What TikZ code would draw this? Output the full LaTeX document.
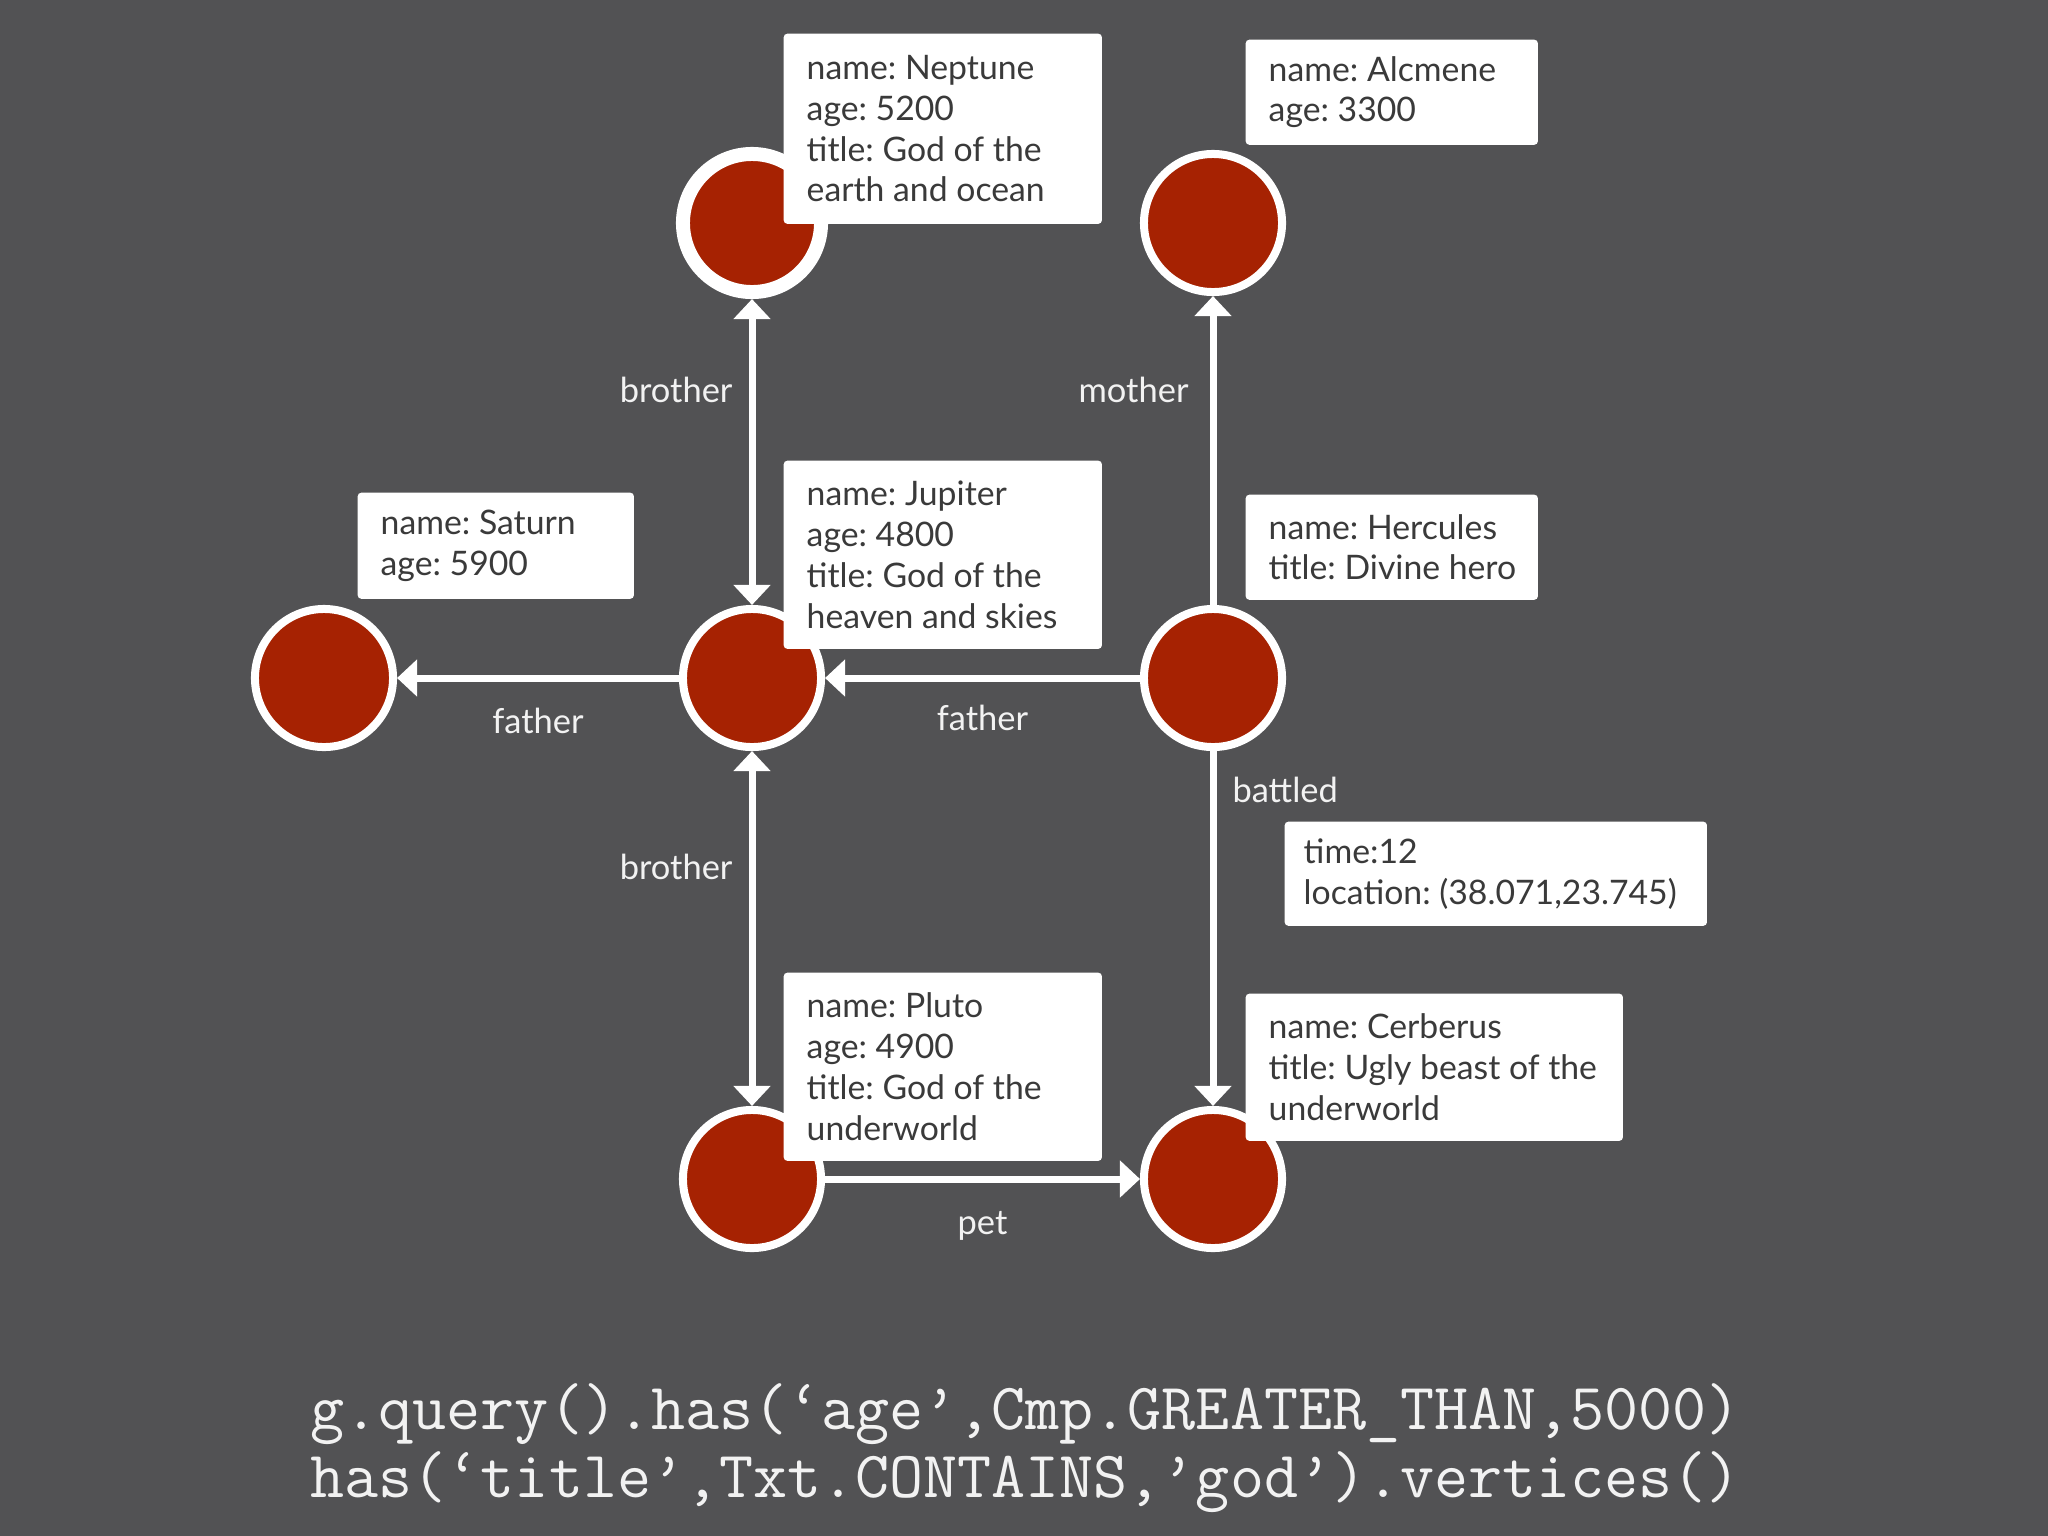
\documentclass[tikz,border=0pt]{standalone}
\usepackage{fontspec}
\setmainfont{Lato}
\frenchspacing
\usepackage{tikz}
\usetikzlibrary{arrows.meta,positioning}
\definecolor{bggray}{RGB}{82,82,84}
\definecolor{nodered}{RGB}{166,34,2}
\definecolor{boxtext}{RGB}{58,58,58}
\definecolor{lbltext}{RGB}{242,242,242}

\begin{document}
\begin{tikzpicture}[x=0.01cm, y=-0.01cm,
  vertex/.style={circle, draw=white, fill=nodered, line width=0.08cm, minimum size=1.38cm, inner sep=0pt},
  edge/.style={draw=white, line width=0.07cm, >={Triangle[length=0.2cm,width=0.36cm]}},
  lbl/.style={text=lbltext, inner sep=0pt, font=\fontsize{9.8pt}{11.6pt}\selectfont},
  infobox/.style={fill=white, rounded corners=1pt, anchor=north west, inner sep=0pt},
  info/.style={text=boxtext, align=left, anchor=west, inner sep=0pt, xshift=0.23cm, font=\fontsize{9.6pt}{11.6pt}\selectfont},
  code/.style={text=lbltext, anchor=base west, inner sep=0pt, font=\fontsize{18.8pt}{19.3pt}\ttfamily}]
\fill[bggray] (0,0) rectangle (2048,1536);
\useasboundingbox (0,0) rectangle (2048,1536);

% vertices
\node[vertex, line width=0.14cm] (nep) at (752,223) {};
\node[vertex] (alc) at (1213,223) {};
\node[vertex] (sat) at (324,678) {};
\node[vertex] (jup) at (752,678) {};
\node[vertex] (her) at (1213,678) {};
\node[vertex] (plu) at (752,1179) {};
\node[vertex] (cer) at (1213,1179) {};

% edges
\draw[edge, <->] (nep) -- node[lbl, pos=0.337, anchor=base east, xshift=-0.16cm] (lbro1) {brother} (jup);
\draw[edge, ->] (her) -- node[lbl, pos=0.657, anchor=base east, xshift=-0.21cm] (lmot) {mother} (alc);
\draw[edge, ->] (jup) -- node[lbl, midway, anchor=base, yshift=-0.55cm] (lfat1) {father} (sat);
\draw[edge, ->] (her) -- node[lbl, midway, anchor=base, yshift=-0.52cm] (lfat2) {father} (jup);
\draw[edge, ->] (her) -- node[lbl, pos=0.146, anchor=base west, xshift=0.16cm] (lbat) {battled} (cer);
\draw[edge, <->] (jup) -- node[lbl, pos=0.363, anchor=base east, xshift=-0.16cm] (lbro2) {brother} (plu);
\draw[edge, ->] (plu) -- node[lbl, midway, anchor=base, yshift=-0.55cm] (lpet) {pet} (cer);

% property boxes
\node[infobox, minimum width=3.18cm, minimum height=1.90cm] (bnep) at (783,33) {};
\node[info] (tnep) at (bnep.west) {name: Neptune\\age: 5200\\title: God of the\\earth and ocean};
\node[infobox, minimum width=2.92cm, minimum height=1.05cm] (balc) at (1245,39) {};
\node[info] (talc) at (balc.west) {name: Alcmene\\age: 3300};
\node[infobox, minimum width=2.76cm, minimum height=1.06cm] (bsat) at (357,492) {};
\node[info] (tsat) at (bsat.west) {name: Saturn\\age: 5900};
\node[infobox, minimum width=3.18cm, minimum height=1.88cm] (bjup) at (783,460) {};
\node[info] (tjup) at (bjup.west) {name: Jupiter\\age: 4800\\title: God of the\\heaven and skies};
\node[infobox, minimum width=2.92cm, minimum height=1.05cm] (bher) at (1245,494) {};
\node[info] (ther) at (bher.west) {name: Hercules\\title: Divine hero};
\node[infobox, minimum width=4.22cm, minimum height=1.04cm] (bbat) at (1284,821) {};
\node[info, xshift=-0.04cm] (tbat) at (bbat.west) {time:12\\location: (38.071,23.745)};
\node[infobox, minimum width=3.18cm, minimum height=1.88cm] (bplu) at (783,972) {};
\node[info] (tplu) at (bplu.west) {name: Pluto\\age: 4900\\title: God of the\\underworld};
\node[infobox, minimum width=3.77cm, minimum height=1.47cm] (bcer) at (1245,993) {};
\node[info] (tcer) at (bcer.west) {name: Cerberus\\title: Ugly beast of the\\underworld};

% query
\node[code] (q1) at (310,1429) {g.query().has(‘age’,Cmp.GREATER\_THAN,5000)};
\node[code] (q2) at (310,1497) {has(‘title’,Txt.CONTAINS,’god’).vertices()};
\end{tikzpicture}
\end{document}
